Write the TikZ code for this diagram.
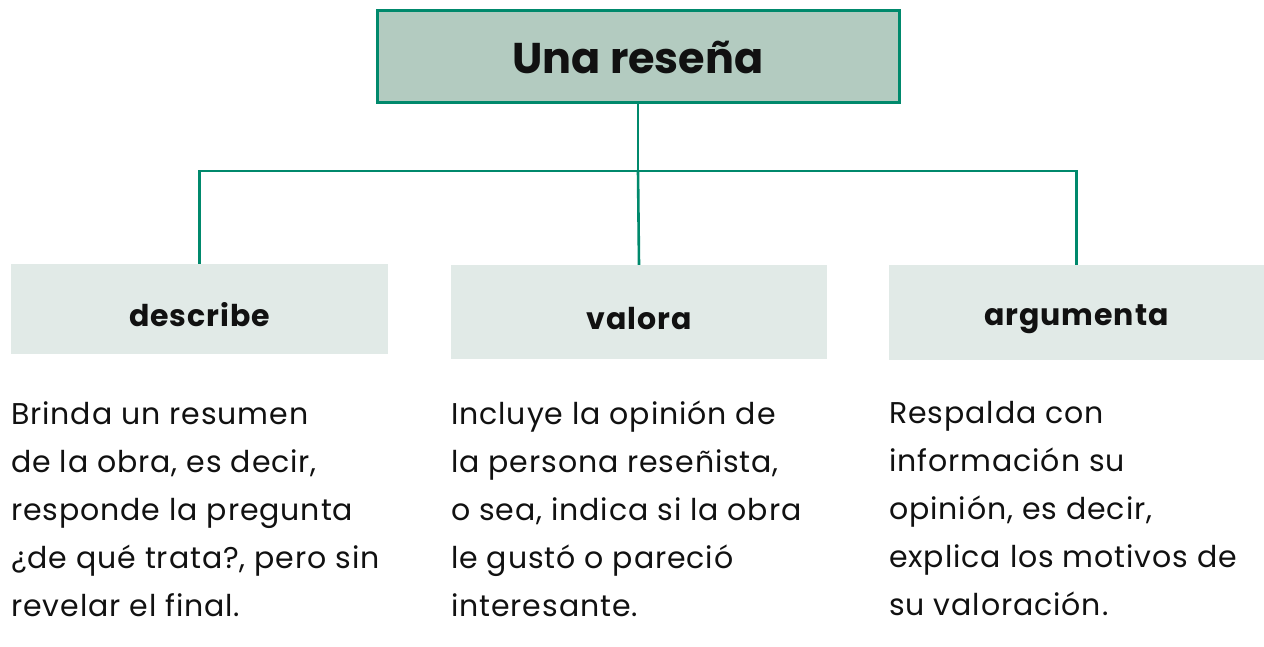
\documentclass[tikz,border=0pt]{standalone}
\usepackage{fontspec}
\setmainfont{Poppins}
\newfontfamily\bodyfont[LetterSpace=3]{Poppins}
\newfontfamily\labelfont[LetterSpace=3]{Poppins}
\definecolor{lineg}{HTML}{00896C}
\definecolor{titlefill}{HTML}{B3CBC0}
\definecolor{boxfill}{HTML}{E1EAE7}
\definecolor{ink}{HTML}{111111}
\begin{document}
\begin{tikzpicture}[x=1pt,y=-1pt,
  titlebox/.style={draw=lineg, line width=3pt, fill=titlefill, inner sep=0pt},
  catbox/.style={fill=boxfill, inner sep=0pt},
  catlabel/.style={anchor=base, inner sep=0pt, text=ink, font=\labelfont\fontsize{30}{34}\selectfont\bfseries},
  bodytext/.style={anchor=north west, inner sep=0pt, align=left, text=ink, font=\bodyfont\fontsize{30}{48}\selectfont},
  conn/.style={draw=lineg, line width=2.6pt}]
\useasboundingbox (0,0) rectangle (1264,647);
\node[titlebox, minimum width=522pt, minimum height=92pt] (t) at (638,57) {};
\node[anchor=base, inner sep=0pt, text=ink, font=\fontsize{43}{50}\selectfont\bfseries] (tl) at (638,74) {Una reseña};
\node[catbox, minimum width=377pt, minimum height=90pt] (d) at (199.5,309) {};
\node[catbox, minimum width=376pt, minimum height=94pt] (v) at (639,312) {};
\node[catbox, minimum width=375pt, minimum height=95pt] (a) at (1076.5,312.5) {};
\node[catlabel] (dl) at (199.5,326) {describe};
\node[catlabel] (vl) at (639,329) {valora};
\node[catlabel] (al) at (1076.5,325) {argumenta};
\coordinate (j) at (638,171);
\draw[conn] (t.south) -- (j);
\draw[conn] (j) -- (v.north);
\draw[conn] (d.north) |- (j) -| (a.north);
\node[bodytext] (db) at (11,401) {Brinda un resumen\\de la obra, es decir,\\responde la pregunta\\¿de qué trata?, pero sin\\revelar el final.};
\node[bodytext] (vb) at (451,401) {Incluye la opinión de\\la persona reseñista,\\o sea, indica si la obra\\le gustó o pareció\\interesante.};
\node[bodytext] (ab) at (889,401) {Respalda con\\información su\\opinión, es decir,\\explica los motivos de\\su valoración.};
\end{tikzpicture}
\end{document}
